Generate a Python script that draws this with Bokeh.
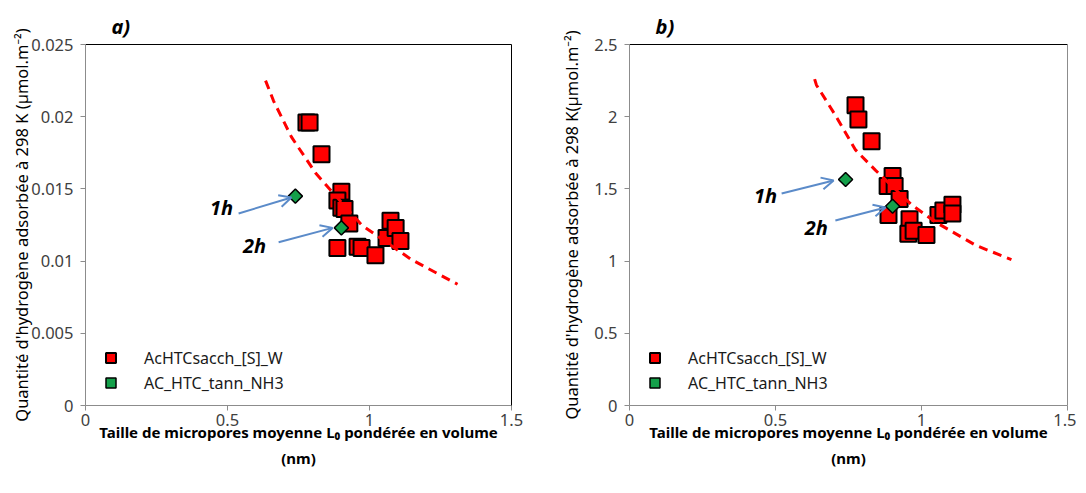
from bokeh.plotting import figure
from bokeh.layouts import row
from bokeh.models import (FixedTicker, LinearAxis, Legend, LegendItem, Arrow, OpenHead,
                          ColumnDataSource, Range1d)
from bokeh.core.properties import value
from bokeh.embed import file_html
from bokeh.resources import INLINE

FONT = "Noto Sans"

# ---------------- data ----------------
x_ticks = [0, 0.5, 1, 1.5]
x_tick_labels = ["0", "0.5", "1", "1.5"]

# panel a
a_y_ticks = [0, 0.005, 0.01, 0.015, 0.02, 0.025]
a_y_tick_labels = ["0", "0.005", "0.01", "0.015", "0.02", "0.025"]
a_sq_x = [0.778, 0.789, 0.831, 0.901, 0.887, 0.901, 0.912, 0.929, 0.887, 0.958, 0.972, 1.021, 1.074, 1.060, 1.092, 1.109]
a_sq_y = [0.0196, 0.0196, 0.0174, 0.0148, 0.0142, 0.0137, 0.0136, 0.0126, 0.0109, 0.0110, 0.0109, 0.0104, 0.0128, 0.0116, 0.0123, 0.0114]
a_di_x = [0.739, 0.901]
a_di_y = [0.0145, 0.0123]
a_fit_x = [0.634, 0.662, 0.725, 0.810, 0.891, 0.972, 1.060, 1.148, 1.243, 1.310]
a_fit_y = [0.0225, 0.0211, 0.0186, 0.0161, 0.0143, 0.0125, 0.0113, 0.0101, 0.0091, 0.0084]
a_lab_x = [0.479, 0.595]
a_lab_y = [0.0137, 0.0111]
a_arr_x0 = [0.539, 0.680]
a_arr_y0 = [0.0133, 0.0113]
a_arr_x1 = [0.725, 0.870]
a_arr_y1 = [0.0144, 0.0123]

# panel b
b_y_ticks = [0, 0.5, 1, 1.5, 2, 2.5]
b_y_tick_labels = ["0", "0.5", "1", "1.5", "2", "2.5"]
b_sq_x = [0.774, 0.784, 0.829, 0.901, 0.884, 0.908, 0.925, 0.887, 0.959, 0.955, 0.973, 1.017, 1.058, 1.075, 1.106, 1.106]
b_sq_y = [2.08, 1.98, 1.83, 1.59, 1.52, 1.52, 1.43, 1.32, 1.29, 1.19, 1.21, 1.18, 1.32, 1.35, 1.39, 1.33]
b_di_x = [0.740, 0.901]
b_di_y = [1.565, 1.38]
b_fit_x = [0.634, 0.640, 0.705, 0.774, 0.842, 0.966, 1.048, 1.185, 1.308]
b_fit_y = [2.26, 2.22, 2.01, 1.77, 1.63, 1.39, 1.27, 1.11, 1.01]
b_lab_x = [0.466, 0.640]
b_lab_y = [1.454, 1.233]
b_arr_x0 = [0.521, 0.705]
b_arr_y0 = [1.468, 1.281]
b_arr_x1 = [0.699, 0.877]
b_arr_y1 = [1.558, 1.371]

labels_h = ["1h", "2h"]
series_names = ["AcHTCsacch_[S]_W", "AC_HTC_tann_NH3"]


def make_panel(title, y_ticks, y_tick_labels, y_max, y_label,
               sq_x, sq_y, di_x, di_y, fit_x, fit_y, lab_x, lab_y,
               ax0, ay0, ax1, ay1, left_border, frame_w, right_border,
               right_color, ylab_standoff):
    p = figure(frame_width=frame_w, frame_height=361,
               min_border_left=left_border, min_border_right=right_border,
               min_border_top=44, min_border_bottom=76,
               x_range=Range1d(0, 1.5), y_range=Range1d(0, y_max),
               output_backend="svg", toolbar_location=None)
    p.outline_line_color = None
    p.xgrid.visible = False
    p.ygrid.visible = False

    p.title.text = title
    p.title.align = "left"
    p.title.offset = 26
    p.title.text_font = FONT
    p.title.text_font_size = "20px"
    p.title.text_font_style = "bold italic"
    p.title.text_color = "black"

    for ax in (p.xaxis[0], p.yaxis[0]):
        ax.axis_line_color = "#8c8c8c"
        ax.major_tick_line_color = "#8c8c8c"
        ax.major_tick_out = 5
        ax.major_tick_in = 0
        ax.minor_tick_line_color = None
        ax.major_label_text_font = FONT
        ax.major_label_text_font_size = "16.5px"
        ax.major_label_text_color = "#404040"
        ax.axis_label_text_font = FONT
        ax.axis_label_text_color = "black"
    p.xaxis[0].ticker = FixedTicker(ticks=x_ticks)
    p.xaxis[0].major_label_overrides = dict(zip(x_ticks, x_tick_labels))
    p.xaxis[0].major_label_standoff = 3
    p.xaxis[0].axis_label = "Taille de micropores moyenne L\u2080 pondérée en volume\n(nm)"
    p.xaxis[0].axis_label_text_font_style = "bold"
    p.xaxis[0].axis_label_text_font_size = "15px"
    p.xaxis[0].axis_label_text_line_height = 1.3
    p.xaxis[0].axis_label_standoff = -7

    p.yaxis[0].ticker = FixedTicker(ticks=y_ticks)
    p.yaxis[0].major_label_overrides = dict(zip(y_ticks, y_tick_labels))
    p.yaxis[0].major_label_standoff = 7
    p.yaxis[0].axis_label = y_label
    p.yaxis[0].axis_label_text_font_style = "normal"
    p.yaxis[0].axis_label_text_font_size = "16.5px"
    p.yaxis[0].axis_label_standoff = ylab_standoff

    top = LinearAxis(ticker=FixedTicker(ticks=[]), axis_line_color="black",
                     major_tick_line_color=None, minor_tick_line_color=None)
    right = LinearAxis(ticker=FixedTicker(ticks=[]), axis_line_color=right_color,
                       major_tick_line_color=None, minor_tick_line_color=None)
    p.add_layout(top, "above")
    p.add_layout(right, "right")

    r_sq = p.scatter(sq_x, sq_y, marker="square", size=16, fill_color="#ff0000",
                     line_color="black", line_width=2)
    p.line(fit_x, fit_y, line_color="#ff0000", line_width=3, line_dash="9 6")
    r_di = p.scatter(di_x, di_y, marker="square", angle=0.785398, size=10,
                     fill_color="#14a04a", line_color="black", line_width=1.5)

    p.text(x=lab_x, y=lab_y, text=labels_h, text_font=value(FONT),
           text_font_style="bold italic", text_font_size="20px",
           text_align="center", text_baseline="middle", text_color="black")

    src = ColumnDataSource(dict(x0=ax0, y0=ay0, x1=ax1, y1=ay1))
    p.add_layout(Arrow(x_start="x0", y_start="y0", x_end="x1", y_end="y1", source=src,
                       line_color="#5b8bc9", line_width=2,
                       end=OpenHead(size=12, line_color="#5b8bc9", line_width=2)))

    legend = Legend(items=[LegendItem(label=series_names[0], renderers=[r_sq]),
                           LegendItem(label=series_names[1], renderers=[r_di])],
                    location=(13, 10), border_line_color=None,
                    background_fill_alpha=0, padding=0, margin=0, spacing=0,
                    glyph_width=25, glyph_height=25, label_standoff=21,
                    label_text_font=FONT, label_text_font_size="16px",
                    label_text_color="#1a1a1a")
    p.add_layout(legend, "center")
    return p


pa = make_panel("a)", a_y_ticks, a_y_tick_labels, 0.025,
                "Quantité d'hydrogène adsorbée à 298 K (µmol.m\u207b\u00b2)",
                a_sq_x, a_sq_y, a_di_x, a_di_y, a_fit_x, a_fit_y, a_lab_x, a_lab_y,
                a_arr_x0, a_arr_y0, a_arr_x1, a_arr_y1, 85, 426, 29, "black", -5)
pb = make_panel("b)", b_y_ticks, b_y_tick_labels, 2.5,
                "Quantité d'hydrogène adsorbée à 298 K(µmol.m\u207b\u00b2)",
                b_sq_x, b_sq_y, b_di_x, b_di_y, b_fit_x, b_fit_y, b_lab_x, b_lab_y,
                b_arr_x0, b_arr_y0, b_arr_x1, b_arr_y1, 89, 438, 9, "#8c8c8c", 8)

layout = row(pa, pb)
open("out.html", "w").write(file_html(layout, INLINE))
